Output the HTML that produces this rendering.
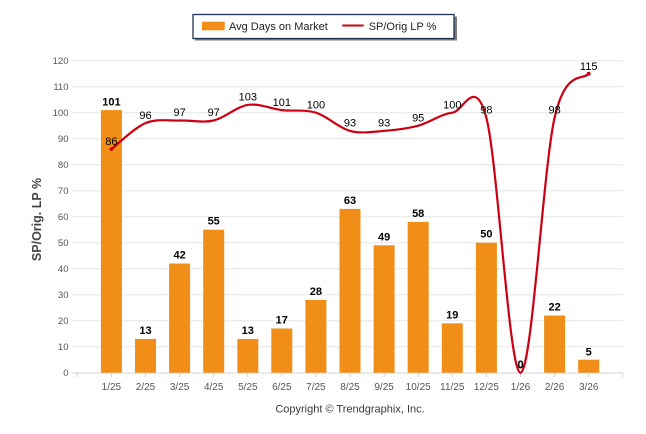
<!DOCTYPE html>
<html><head><meta charset="utf-8"><style>
html,body{margin:0;padding:0;background:#fff;}
svg{display:block;}
text{font-family:"Liberation Sans",Arial,sans-serif;}
</style></head><body>
<svg width="646" height="434" viewBox="0 0 646 434" xmlns="http://www.w3.org/2000/svg">
<rect width="646" height="434" fill="#fff"/>
<!-- gridlines -->
<g stroke="#e6e6e6" stroke-width="1">
<line x1="72" x2="623" y1="60.7" y2="60.7"/>
<line x1="72" x2="623" y1="86.7" y2="86.7"/>
<line x1="72" x2="623" y1="112.7" y2="112.7"/>
<line x1="72" x2="623" y1="138.7" y2="138.7"/>
<line x1="72" x2="623" y1="164.7" y2="164.7"/>
<line x1="72" x2="623" y1="190.7" y2="190.7"/>
<line x1="72" x2="623" y1="216.7" y2="216.7"/>
<line x1="72" x2="623" y1="242.7" y2="242.7"/>
<line x1="72" x2="623" y1="268.7" y2="268.7"/>
<line x1="72" x2="623" y1="294.7" y2="294.7"/>
<line x1="72" x2="623" y1="320.7" y2="320.7"/>
<line x1="72" x2="623" y1="346.7" y2="346.7"/>
</g>
<line x1="72" x2="623" y1="373" y2="373" stroke="#dcdcdc" stroke-width="1.2"/>
<g stroke="#d0d0d0" stroke-width="1">
<line x1="77.3" x2="77.3" y1="373" y2="377"/>
<line x1="111.4" x2="111.4" y1="373" y2="377"/>
<line x1="145.5" x2="145.5" y1="373" y2="377"/>
<line x1="179.6" x2="179.6" y1="373" y2="377"/>
<line x1="213.7" x2="213.7" y1="373" y2="377"/>
<line x1="247.8" x2="247.8" y1="373" y2="377"/>
<line x1="281.8" x2="281.8" y1="373" y2="377"/>
<line x1="315.9" x2="315.9" y1="373" y2="377"/>
<line x1="350" x2="350" y1="373" y2="377"/>
<line x1="384.1" x2="384.1" y1="373" y2="377"/>
<line x1="418.2" x2="418.2" y1="373" y2="377"/>
<line x1="452.3" x2="452.3" y1="373" y2="377"/>
<line x1="486.4" x2="486.4" y1="373" y2="377"/>
<line x1="520.5" x2="520.5" y1="373" y2="377"/>
<line x1="554.6" x2="554.6" y1="373" y2="377"/>
<line x1="588.7" x2="588.7" y1="373" y2="377"/>
<line x1="622.7" x2="622.7" y1="373" y2="377"/>
</g>
<!-- y labels -->
<g font-size="9.5" fill="#555" text-anchor="end">
<text x="68.5" y="64">120</text>
<text x="68.5" y="90">110</text>
<text x="68.5" y="116">100</text>
<text x="68.5" y="142">90</text>
<text x="68.5" y="168">80</text>
<text x="68.5" y="194">70</text>
<text x="68.5" y="220">60</text>
<text x="68.5" y="246">50</text>
<text x="68.5" y="272">40</text>
<text x="68.5" y="298">30</text>
<text x="68.5" y="324">20</text>
<text x="68.5" y="350">10</text>
<text x="68.5" y="376">0</text>
</g>
<text transform="translate(41,219.5) rotate(-90)" font-size="12.5" font-weight="bold" fill="#444" text-anchor="middle">SP/Orig. LP %</text>
<!-- x labels -->
<g font-size="10" fill="#555" text-anchor="middle">
<text x="111.4" y="390">1/25</text>
<text x="145.5" y="390">2/25</text>
<text x="179.6" y="390">3/25</text>
<text x="213.7" y="390">4/25</text>
<text x="247.8" y="390">5/25</text>
<text x="281.8" y="390">6/25</text>
<text x="315.9" y="390">7/25</text>
<text x="350" y="390">8/25</text>
<text x="384.1" y="390">9/25</text>
<text x="418.2" y="390">10/25</text>
<text x="452.3" y="390">11/25</text>
<text x="486.4" y="390">12/25</text>
<text x="520.5" y="390">1/26</text>
<text x="554.6" y="390">2/26</text>
<text x="588.7" y="390">3/26</text>
</g>
<!-- bars -->
<g fill="#F18E17">
<rect x="100.9" y="110.1" width="21" height="262.6"/>
<rect x="135" y="338.9" width="21" height="33.8"/>
<rect x="169.1" y="263.5" width="21" height="109.2"/>
<rect x="203.2" y="229.7" width="21" height="143"/>
<rect x="237.3" y="338.9" width="21" height="33.8"/>
<rect x="271.3" y="328.5" width="21" height="44.2"/>
<rect x="305.4" y="299.9" width="21" height="72.8"/>
<rect x="339.5" y="208.9" width="21" height="163.8"/>
<rect x="373.6" y="245.3" width="21" height="127.4"/>
<rect x="407.7" y="221.9" width="21" height="150.8"/>
<rect x="441.8" y="323.3" width="21" height="49.4"/>
<rect x="475.9" y="242.7" width="21" height="130"/>
<rect x="544.1" y="315.5" width="21" height="57.2"/>
<rect x="578.2" y="359.7" width="21" height="13"/>
</g>
<!-- bar labels -->
<g font-size="11" font-weight="bold" fill="#000" text-anchor="middle">
<text x="111.4" y="105.3">101</text>
<text x="145.5" y="334">13</text>
<text x="179.6" y="258.5">42</text>
<text x="213.7" y="224.7">55</text>
<text x="247.8" y="334">13</text>
<text x="281.8" y="323.5">17</text>
<text x="315.9" y="295">28</text>
<text x="350" y="204">63</text>
<text x="384.1" y="240.3">49</text>
<text x="418.2" y="217">58</text>
<text x="452.3" y="318.3">19</text>
<text x="486.4" y="237.7">50</text>
<text x="520.5" y="368">0</text>
<text x="554.6" y="310.5">22</text>
<text x="588.7" y="355.7">5</text>
</g>
<!-- line -->
<path d="M111.39 149.1 C117.07 144.77,134.12 127.87,145.48 123.1 C156.84 118.33,168.21 120.93,179.57 120.5 C190.93 120.07,202.3 123.1,213.66 120.5 C225.02 117.9,236.39 106.63,247.75 104.9 C259.11 103.17,270.48 108.8,281.84 110.1 C293.2 111.4,304.57 109.23,315.93 112.7 C327.29 116.17,338.66 127.87,350.02 130.9 C361.38 133.93,372.75 131.77,384.11 130.9 C395.47 130.03,406.84 128.73,418.2 125.7 C429.56 122.67,440.93 114,452.29 112.7 C463.65 111.4,475.02 74.57,486.38 117.9 C497.74 161.23,509.11 372.7,520.47 372.7 C531.83 372.7,543.2 167.73,554.56 117.9 C565.92 68.07,582.97 81.07,588.65 73.7" fill="none" stroke="#CC0011" stroke-width="2.2" stroke-linecap="round" stroke-linejoin="round"/>
<circle cx="111.39" cy="149.1" r="1.8" fill="#CC0011"/>
<circle cx="588.65" cy="73.7" r="2" fill="#CC0011"/>
<!-- line labels -->
<g font-size="11" fill="#000" text-anchor="middle">
<text x="111.4" y="145">86</text>
<text x="145.5" y="118.8">96</text>
<text x="179.6" y="116.2">97</text>
<text x="213.7" y="116.2">97</text>
<text x="247.8" y="100.6">103</text>
<text x="281.8" y="105.8">101</text>
<text x="315.9" y="108.4">100</text>
<text x="350" y="126.6">93</text>
<text x="384.1" y="126.6">93</text>
<text x="418.2" y="121.4">95</text>
<text x="452.3" y="108.4">100</text>
<text x="486.4" y="113.6">98</text>
<text x="520.5" y="368.4">0</text>
<text x="554.6" y="113.6">98</text>
<text x="588.7" y="70">115</text>
</g>
<!-- legend -->
<rect x="195" y="16.5" width="262" height="24" fill="#7a7a7a"/>
<rect x="193" y="14.5" width="261" height="24" fill="#fff" stroke="#1f3452" stroke-width="1.3"/>
<rect x="202" y="21.7" width="22.7" height="8.6" fill="#F18E17"/>
<text x="229" y="30" font-size="11" fill="#222">Avg Days on Market</text>
<line x1="342.3" x2="363.7" y1="25.5" y2="25.5" stroke="#CC0011" stroke-width="2"/>
<text x="368.7" y="30" font-size="11" fill="#222">SP/Orig LP %</text>
<!-- copyright -->
<text x="350" y="412.5" font-size="11" fill="#3a3a3a" text-anchor="middle">Copyright © Trendgraphix, Inc.</text>
</svg>
</body></html>
